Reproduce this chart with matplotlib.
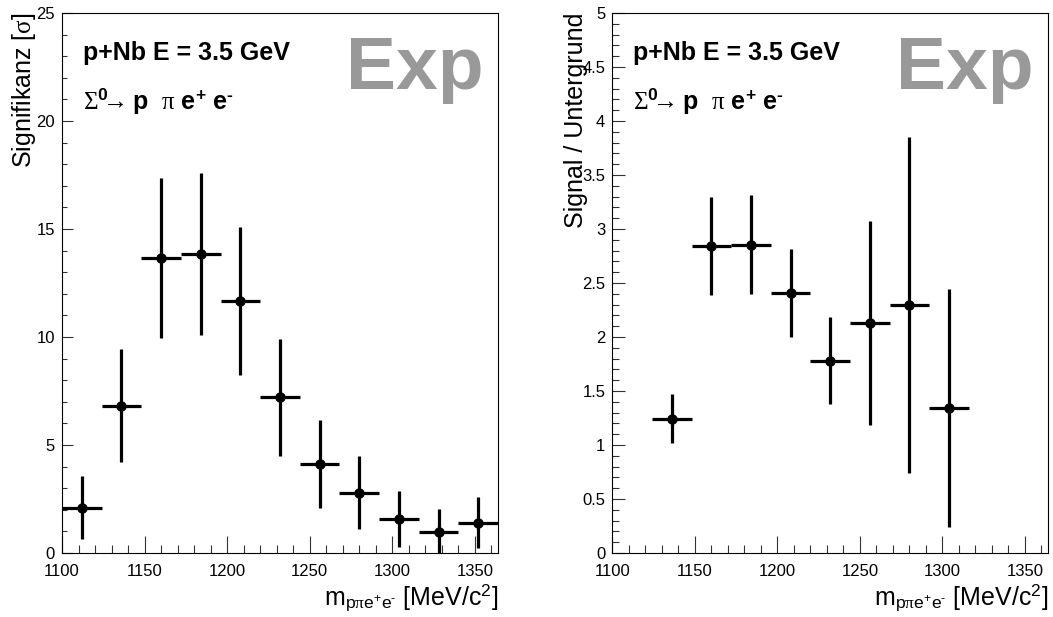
import matplotlib
matplotlib.use("Agg")
import matplotlib.pyplot as plt
from matplotlib.ticker import MultipleLocator, FuncFormatter

# bin centres (bin width 24 MeV/c^2)
mass_left = [1112, 1136, 1160, 1184, 1208, 1232, 1256, 1280, 1304, 1328, 1352]
signif = [2.1, 6.81, 13.65, 13.85, 11.66, 7.2, 4.12, 2.8, 1.58, 0.97, 1.41]
signif_err = [1.47, 2.62, 3.69, 3.74, 3.43, 2.69, 2.04, 1.7, 1.28, 1.05, 1.19]

mass_right = [1136, 1160, 1184, 1208, 1232, 1256, 1280, 1304]
sig_bg = [1.243, 2.844, 2.856, 2.406, 1.782, 2.13, 2.296, 1.344]
sig_bg_err = [0.227, 0.453, 0.455, 0.407, 0.40, 0.945, 1.555, 1.103]

half_bin = 12
x_range = (1100, 1364)

plt.rcParams['font.family'] = ['Liberation Sans', 'DejaVu Sans']
plt.rcParams['mathtext.fontset'] = 'custom'
plt.rcParams['mathtext.rm'] = 'Liberation Serif'
plt.rcParams['mathtext.it'] = 'Liberation Serif:italic'
plt.rcParams['mathtext.sf'] = 'Liberation Sans'
plt.rcParams['mathtext.bf'] = 'Liberation Sans:bold'

fig = plt.figure(figsize=(10.53, 6.17), dpi=100)
ax1 = fig.add_axes([62 / 1053, 64 / 617, 436 / 1053, 540 / 617])
ax2 = fig.add_axes([612.3 / 1053, 64 / 617, 435.7 / 1053, 540 / 617])

xlabel = (r"m$_{\mathsf{p}\mathrm{\pi}\mathsf{e}^{\mathsf{+}}\mathsf{e}^{\mathsf{‐}}}$"
          r" [MeV/c$^{\mathsf{2}}$]")
reaction = (r"$\Sigma^{\mathbf{0}}\!\!\!\rightarrow\!\!$ p  $\mathrm{\pi}$ e$^{\mathbf{+}}$"
            r" e$^{\mathbf{‐}}$")
fmt = FuncFormatter(lambda v, p: "%g" % v)


def style(ax, x, y, yerr, ylim, ymaj, ymin, ylab, ylab_x, ymaj_len, ymin_len):
    ax.errorbar(x, y, xerr=half_bin, yerr=yerr, fmt='o', color='black',
                ms=6.5, elinewidth=2.3, capsize=0)
    ax.set_xlim(*x_range)
    ax.set_ylim(*ylim)
    ax.xaxis.set_major_locator(MultipleLocator(50))
    ax.xaxis.set_minor_locator(MultipleLocator(10))
    ax.yaxis.set_major_locator(MultipleLocator(ymaj))
    ax.yaxis.set_minor_locator(MultipleLocator(ymin))
    ax.yaxis.set_major_formatter(fmt)
    ax.tick_params(which='both', direction='in', top=False, right=False,
                   width=0.8, labelsize=12, color='#333333')
    ax.tick_params(axis='x', which='major', length=12, pad=8)
    ax.tick_params(axis='x', which='minor', length=6)
    ax.tick_params(axis='y', which='major', length=ymaj_len, pad=5)
    ax.tick_params(axis='y', which='minor', length=ymin_len)
    for s in ax.spines.values():
        s.set_linewidth(0.8)
    ax.set_xlabel(xlabel, fontsize=18, loc='right')
    ax.xaxis.set_label_coords(1.0, -0.056)
    ax.set_ylabel(ylab, fontsize=18, loc='top')
    ax.yaxis.set_label_coords(ylab_x, 1.0)
    ax.text(0.048, 0.913, "p+Nb E = 3.5 GeV", transform=ax.transAxes,
            fontsize=18, fontweight='bold')
    ax.text(0.048, 0.822, reaction, transform=ax.transAxes,
            fontsize=18, fontweight='bold')
    ax.text(0.967, 0.86, "Exp", transform=ax.transAxes, ha='right',
            fontsize=54, fontweight='bold', color='#999999')


style(ax1, mass_left, signif, signif_err, (0, 25), 5, 1,
      r"Signifikanz [$\mathrm{\sigma}$]", -0.055, 8, 3.5)
style(ax2, mass_right, sig_bg, sig_bg_err, (0, 5), 0.5, 0.1,
      "Signal / Untergrund", -0.056, 9, 5)

fig.savefig("out.png", dpi=100)
